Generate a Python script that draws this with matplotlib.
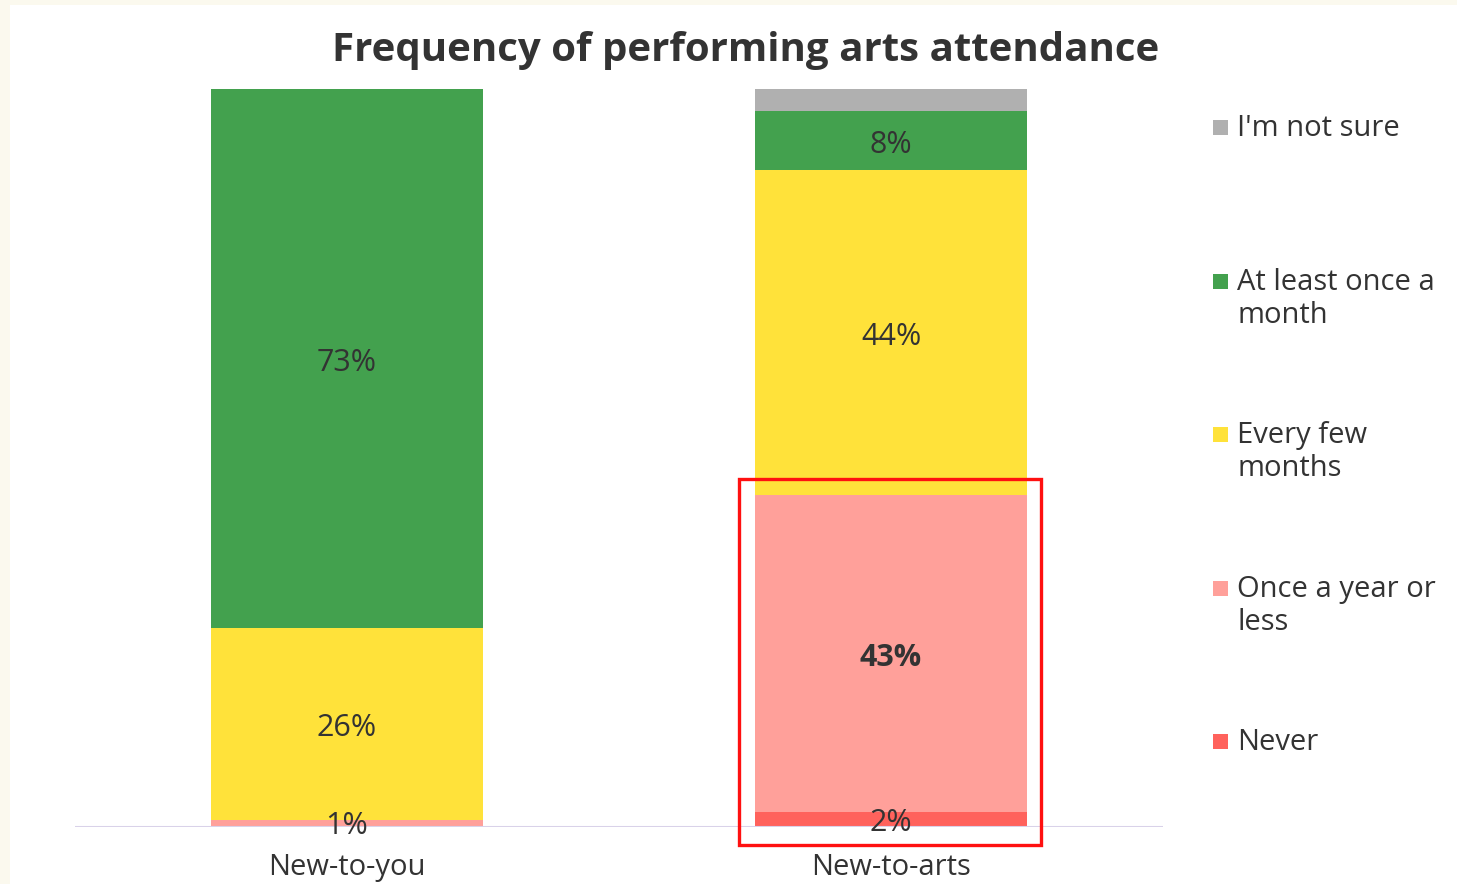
import numpy as np
import matplotlib
matplotlib.use("Agg")
import matplotlib.pyplot as plt
from matplotlib.patches import Rectangle

plt.rcParams["font.family"] = ["Open Sans", "DejaVu Sans"]

groups = ["New-to-you", "New-to-arts"]
series = ["Never", "Once a year or less", "Every few months", "At least once a month", "I'm not sure"]
values = {
    "Never": [0, 2],
    "Once a year or less": [1, 43],
    "Every few months": [26, 44],
    "At least once a month": [73, 8],
    "I'm not sure": [0, 3],
}
colors = {
    "Never": "#FF625C",
    "Once a year or less": "#FFA09A",
    "Every few months": "#FFE23A",
    "At least once a month": "#43A14E",
    "I'm not sure": "#B0B0B0",
}
legend_labels = ["I'm not sure", "At least once a\nmonth", "Every few\nmonths",
                 "Once a year or\nless", "Never"]
legend_keys = ["I'm not sure", "At least once a month", "Every few months",
               "Once a year or less", "Never"]
txt = "#333333"

W, H = 1457, 884
fig = plt.figure(figsize=(W / 100, H / 100), dpi=100, facecolor="#FBF9EE")
fig.patches.append(Rectangle((10 / W, 0), 1, 1 - 5 / H, transform=fig.transFigure,
                             facecolor="white", edgecolor="none", zorder=-5))

ax = fig.add_axes([75 / W, 1 - 827 / H, (1163 - 75) / W, (827 - 89) / H])
ax.set_facecolor("none")
ax.set_zorder(2)
x = np.arange(len(groups))
bottom = np.zeros(len(groups))
for s in series:
    v = np.array(values[s], dtype=float)
    ax.bar(x, v, 0.5, bottom=bottom, color=colors[s], edgecolor="none", zorder=2)
    for i in range(len(groups)):
        show = v[i] > 0 and not (s == "I'm not sure")
        if show:
            bold = (s == "Once a year or less" and i == 1)
            ax.text(x[i], bottom[i] + v[i] / 2 - (0.4 if v[i] < 3 else 0.6), "%d%%" % v[i],
                    ha="center", va="center", fontsize=22, color=txt,
                    fontweight="bold" if bold else "normal", zorder=4)
    bottom += v

ax.set_xlim(-0.5, 1.5)
ax.set_ylim(0, 100)
ax.axhline(0, color="#D9D2E9", lw=1.5, zorder=3)
for sp in ax.spines.values():
    sp.set_visible(False)
ax.set_yticks([])
ax.set_xticks(x)
ax.set_xticklabels(groups, fontsize=21, color=txt)
ax.tick_params(axis="x", length=0, pad=19)

# highlight box
ax.add_patch(Rectangle((0.7206, -2.44), 0.555, 49.6, fill=False, edgecolor="#FF1010",
                       lw=2.4, clip_on=False, zorder=5))

fig.text(746 / W, 1 - 50 / H, "Frequency of performing arts attendance",
         ha="center", va="center", fontsize=29, fontweight="bold", color=txt)

# legend
ys = [127, 281, 434, 588, 741]
for key, lab, yy in zip(legend_keys, legend_labels, ys):
    fig.patches.append(Rectangle((1213 / W, 1 - (yy + 8) / H), 15 / W, 15 / H,
                                 transform=fig.transFigure, facecolor=colors[key],
                                 edgecolor="none"))
    fig.text(1237 / W, 1 - (yy - 13) / H, lab, ha="left", va="top", fontsize=21,
             color=txt, linespacing=1.2)

fig.savefig("out.png", dpi=100, facecolor=fig.get_facecolor())
